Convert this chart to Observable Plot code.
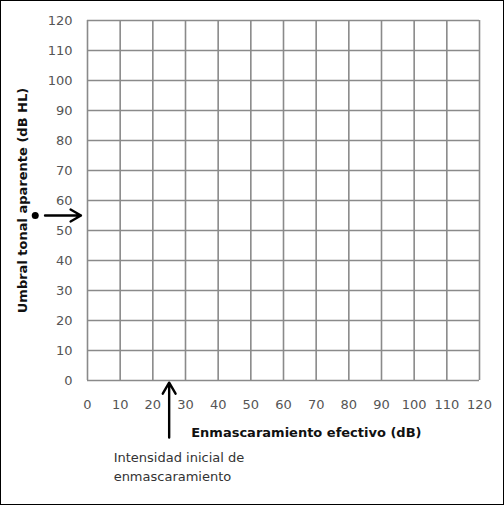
<!DOCTYPE html>
<html><head><meta charset="utf-8">
<script src="https://cdn.jsdelivr.net/npm/d3@7"></script>
<script src="https://cdn.jsdelivr.net/npm/@observablehq/plot@0.6"></script>
<style>
body{margin:0;background:#fff;}
#chart svg{border:1px solid #000;display:block;}
g[aria-label="y-axis label"] text{font-weight:bold;fill:#111;}
</style>
</head><body><div id="chart"></div>
<script>
// Axis ticks
const xTicks = [0,10,20,30,40,50,60,70,80,90,100,110,120];
const yTicks = [0,10,20,30,40,50,60,70,80,90,100,110,120];
// Annotation: apparent threshold (dot + arrow) at 55 dB HL
const thresholdLevel = [55];
const thresholdArrowX = [-13, -2];
const thresholdDotX = [-16];
// Annotation: initial masking intensity at 25 dB
const initialMasking = [25];
const initialArrowY = [-19, -0.7];
const noteText = ["Intensidad inicial de\nenmascaramiento"];
const noteX = [8];
const noteY = [-28.3];
const xTitle = ["Enmascaramiento efectivo (dB)"];
const xTitleX = [67];
const xTitleY = [-17.5];

const chart = Plot.plot({
  width: 502, height: 503,
  marginLeft: 86, marginRight: 24, marginTop: 19, marginBottom: 124,
  style: {fontFamily: "DejaVu Sans", fontSize: "13px", background: "#fff"},
  x: {domain: [0,120]},
  y: {domain: [0,120]},
  marks: [
    Plot.ruleX(xTicks, {x: d => d, y1: 0, y2: 120, stroke: "#8a8a8a", strokeWidth: 1.6}),
    Plot.ruleY(yTicks, {y: d => d, x1: 0, x2: 120, stroke: "#8a8a8a", strokeWidth: 1.6}),
    Plot.axisX({ticks: xTicks, tickSize: 0, tickPadding: 19, label: null, fill: "#555", fontSize: 13}),
    Plot.axisY({ticks: yTicks, tickSize: 0, tickPadding: 15, fill: "#555", fontSize: 13,
      label: "Umbral tonal aparente (dB HL)", labelAnchor: "center", labelArrow: "none", labelOffset: 70}),
    Plot.text(xTitle, {x: xTitleX, y: xTitleY, text: d => d, fontWeight: "bold", fill: "#111", fontSize: 13, textAnchor: "middle"}),
    Plot.arrow(thresholdLevel, {x1: thresholdArrowX[0], x2: thresholdArrowX[1], y1: d => d, y2: d => d,
      stroke: "#000", strokeWidth: 2.4, headLength: 8, clip: false}),
    Plot.dot(thresholdLevel, {x: thresholdDotX[0], y: d => d, r: 3.5, fill: "#000", clip: false}),
    Plot.arrow(initialMasking, {x1: d => d, x2: d => d, y1: initialArrowY[0], y2: initialArrowY[1],
      stroke: "#000", strokeWidth: 2.4, headLength: 8, clip: false}),
    Plot.text(noteText, {x: noteX, y: noteY, text: d => d, textAnchor: "start", lineAnchor: "middle",
      lineHeight: 1.45, fill: "#333", fontSize: 13, fontFamily: "DejaVu Sans"})
  ]
});
document.getElementById("chart").appendChild(chart);
</script>
</body></html>
